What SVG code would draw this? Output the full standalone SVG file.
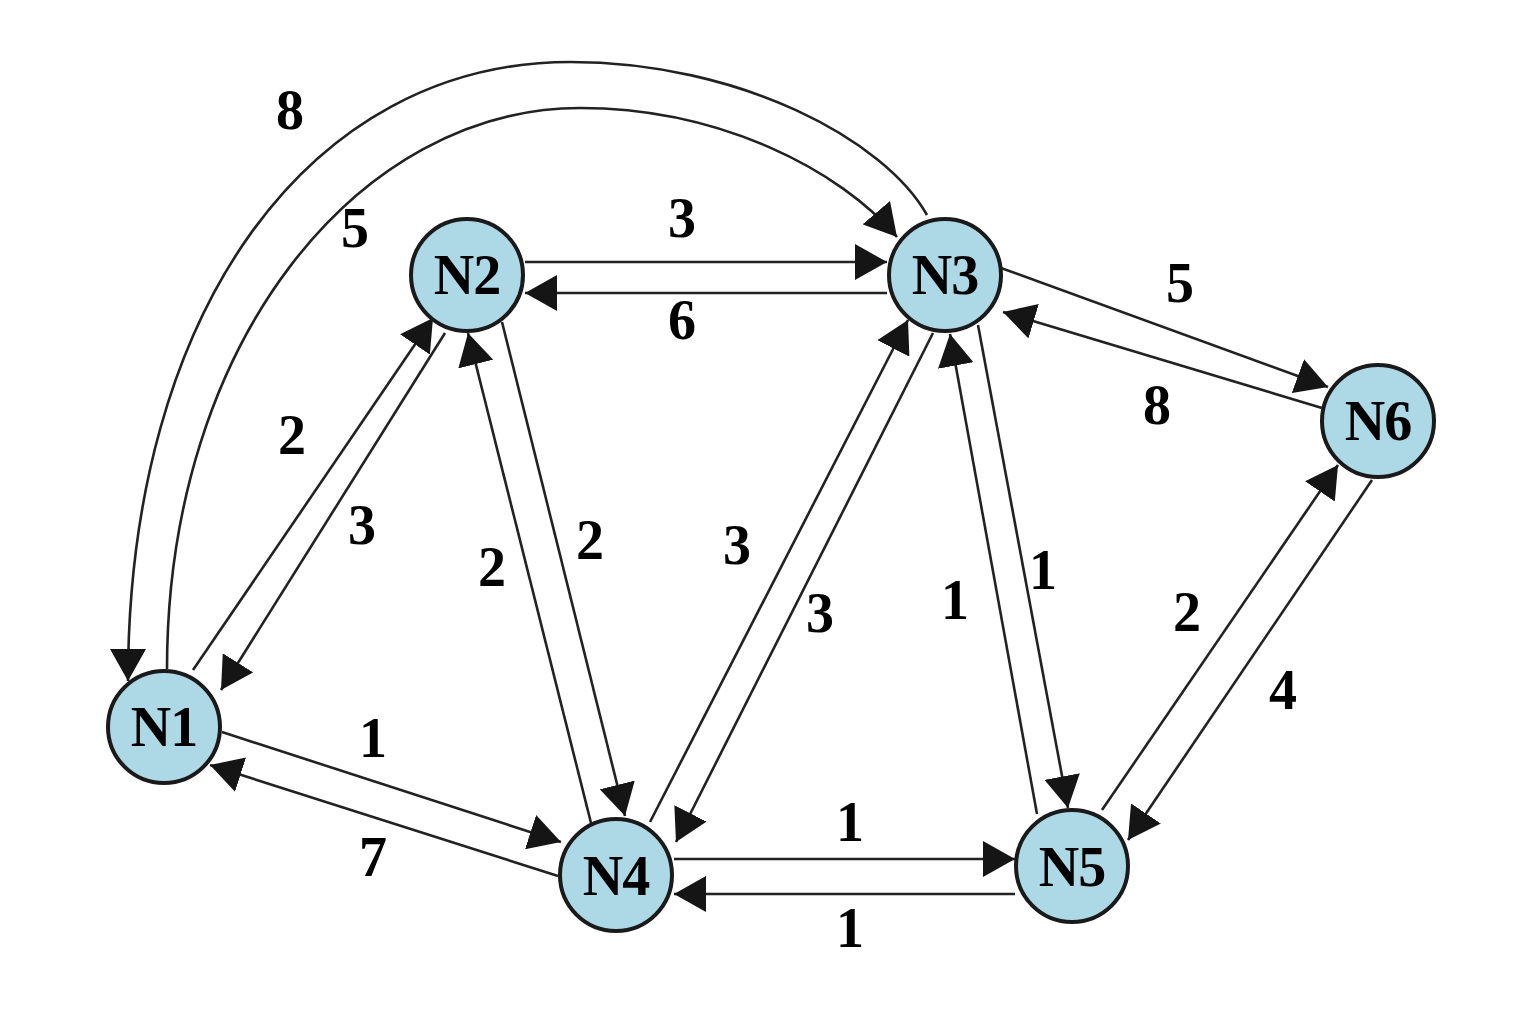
<svg xmlns="http://www.w3.org/2000/svg" width="1530" height="1010" viewBox="0 0 1530 1010">
<style>
.edge{fill:none;stroke:#222;stroke-width:2.6;marker-end:url(#arr)}
.node circle{fill:#ADD8E6;stroke:#1a1a1a;stroke-width:4}
.node text{font-family:"Liberation Serif","Times New Roman",serif;font-weight:bold;font-size:56px;text-anchor:middle;fill:#000;letter-spacing:-1px}
.lbl{font-family:"Liberation Serif","Times New Roman",serif;font-weight:bold;font-size:56px;text-anchor:middle;fill:#000}
</style>
<defs>
<marker id="arr" markerUnits="userSpaceOnUse" viewBox="0 0 32 36" markerWidth="32" markerHeight="36" refX="32" refY="18" orient="auto">
<path d="M0,0 L32,18 L0,36 z" fill="#151515"/>
</marker>
</defs>
<rect width="1530" height="1010" fill="#fff"/>
<g id="connectors">
<path class="edge" d="M927,215 C885,140 740,62 570,62 C310,62 128,310 128,681"/>
<path class="edge" d="M167,669 C167,340 360,108 580,108 C720,108 840,170 897,237"/>
<line class="edge" x1="193" y1="670" x2="433" y2="318"/>
<line class="edge" x1="445" y1="333" x2="221" y2="690"/>
<line class="edge" x1="502" y1="322" x2="625" y2="816"/>
<line class="edge" x1="591" y1="823" x2="468" y2="333"/>
<line class="edge" x1="650" y1="822" x2="908" y2="320"/>
<line class="edge" x1="933" y1="333" x2="676" y2="842"/>
<line class="edge" x1="525" y1="262" x2="887" y2="262"/>
<line class="edge" x1="887" y1="293" x2="525" y2="293"/>
<line class="edge" x1="1001" y1="268" x2="1328" y2="387"/>
<line class="edge" x1="1322" y1="408" x2="1003" y2="312"/>
<line class="edge" x1="978" y1="325" x2="1068" y2="808"/>
<line class="edge" x1="1037" y1="814" x2="950" y2="334"/>
<line class="edge" x1="1102" y1="810" x2="1338" y2="465"/>
<line class="edge" x1="1372" y1="480" x2="1128" y2="840"/>
<line class="edge" x1="222" y1="732" x2="561" y2="842"/>
<line class="edge" x1="558" y1="876" x2="210" y2="765"/>
<line class="edge" x1="674" y1="859" x2="1015" y2="859"/>
<line class="edge" x1="1015" y1="894" x2="674" y2="894"/>
</g>
<g id="N1" class="node"><circle cx="164" cy="727" r="56"/><text x="164" y="746">N1</text></g>
<g id="N2" class="node"><circle cx="467" cy="275" r="56"/><text x="467" y="294">N2</text></g>
<g id="N3" class="node"><circle cx="945" cy="275" r="56"/><text x="945" y="294">N3</text></g>
<g id="N4" class="node"><circle cx="616" cy="875" r="56"/><text x="616" y="895">N4</text></g>
<g id="N5" class="node"><circle cx="1072" cy="866" r="56"/><text x="1072" y="886">N5</text></g>
<g id="N6" class="node"><circle cx="1378" cy="421" r="56"/><text x="1378" y="440">N6</text></g>
<g id="labels">
<text class="lbl" x="290" y="129">8</text>
<text class="lbl" x="355" y="247">5</text>
<text class="lbl" x="682" y="237">3</text>
<text class="lbl" x="682" y="339">6</text>
<text class="lbl" x="1180" y="302">5</text>
<text class="lbl" x="1157" y="424">8</text>
<text class="lbl" x="292" y="454">2</text>
<text class="lbl" x="362" y="544">3</text>
<text class="lbl" x="492" y="586">2</text>
<text class="lbl" x="590" y="559">2</text>
<text class="lbl" x="737" y="564">3</text>
<text class="lbl" x="820" y="632">3</text>
<text class="lbl" x="955" y="619">1</text>
<text class="lbl" x="1043" y="589">1</text>
<text class="lbl" x="1187" y="631">2</text>
<text class="lbl" x="1283" y="709">4</text>
<text class="lbl" x="373" y="757">1</text>
<text class="lbl" x="373" y="876">7</text>
<text class="lbl" x="850" y="841">1</text>
<text class="lbl" x="850" y="947">1</text>
</g>
</svg>
